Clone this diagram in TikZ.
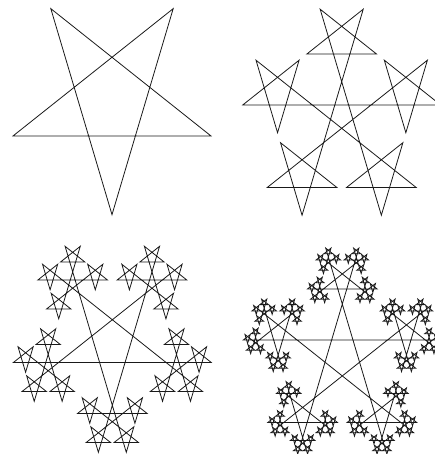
\documentclass[tikz,border=0pt]{standalone}
\tikzset{starline/.style={line width=0.8pt, draw=black!90, line join=miter}}
\newcommand\fsSigma{0.352}
\newcommand\fstar[7]{%
  \ifnum#1>0\relax
  \begingroup
    \ifcase#1\relax\or\def\fl{1}\or\def\fl{0.296}\or\def\fl{0.5438}\or\def\fl{0.4566}\fi
    \pgfmathsetmacro\fL{#5*\fl}%
    \pgfmathsetmacro\fha{#4}%
    \pgfmathsetmacro\fhb{#4+(#6)*144}%
    \pgfmathsetmacro\fhc{#4+(#6)*288}%
    \pgfmathsetmacro\fhd{#4+(#6)*432}%
    \pgfmathsetmacro\fhe{#4+(#6)*576}%
    \pgfmathsetmacro\fxa{#2+\fL*cos(\fha)}\pgfmathsetmacro\fya{#3+\fL*sin(\fha)}%
    \pgfmathsetmacro\fxb{\fxa+\fL*cos(\fhb)}\pgfmathsetmacro\fyb{\fya+\fL*sin(\fhb)}%
    \pgfmathsetmacro\fxc{\fxb+\fL*cos(\fhc)}\pgfmathsetmacro\fyc{\fyb+\fL*sin(\fhc)}%
    \pgfmathsetmacro\fxd{\fxc+\fL*cos(\fhd)}\pgfmathsetmacro\fyd{\fyc+\fL*sin(\fhd)}%
    \draw[starline] (#2,#3) -- (\fxa,\fya) -- (\fxb,\fyb) -- (\fxc,\fyc) -- (\fxd,\fyd) -- cycle;
    \ifnum#1>1\relax
      \pgfmathtruncatemacro\fn{#1-1}%
      \pgfmathtruncatemacro\fd{-(#6)}%
      \pgfmathsetmacro\fW{#5*\fsSigma}%
      \edef\fnext{%
        \noexpand\fstar{\fn}{\fxa}{\fya}{\fha}{\fW}{\fd}{0}%
        \noexpand\fstar{\fn}{\fxb}{\fyb}{\fhb}{\fW}{\fd}{0}%
        \noexpand\fstar{\fn}{\fxc}{\fyc}{\fhc}{\fW}{\fd}{0}%
        \noexpand\fstar{\fn}{\fxd}{\fyd}{\fhd}{\fW}{\fd}{0}%
        \ifnum#7=1 \noexpand\fstar{\fn}{#2}{#3}{\fhe}{\fW}{\fd}{0}\fi}%
      \fnext
    \fi
  \endgroup
  \fi}
\begin{document}
\begin{tikzpicture}[x=1pt,y=1.094pt]
\useasboundingbox (0,0) rectangle (435,415);
\clip (0,0) rectangle (435,415);
\fstar{1}{13}{290.7}{0}{198}{1}{1}
\fstar{2}{312.4}{319.0}{0}{198}{-1}{1}
\fstar{3}{58.5}{83.6}{0}{198}{1}{1}
\fstar{4}{297.1}{104.2}{0}{198}{-1}{1}
\end{tikzpicture}
\end{document}
